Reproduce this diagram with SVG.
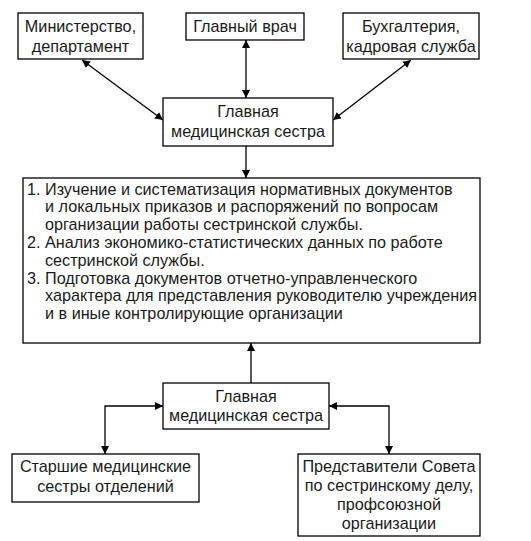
<svg xmlns="http://www.w3.org/2000/svg" width="531" height="541" viewBox="0 0 531 541">
<defs>
<style>
.box{fill:#fff;stroke:#000;stroke-width:1.3}
.t{font-family:"Liberation Sans",Arial,sans-serif;font-size:16.2px;fill:#1a1a1a}
.c{text-anchor:middle}
.ln{fill:none;stroke:#000;stroke-width:1.3}
</style>
<marker id="ah" viewBox="0 0 10 10" refX="10" refY="5" markerWidth="8" markerHeight="8" markerUnits="userSpaceOnUse" orient="auto-start-reverse">
<path d="M0,0 L10,5 L0,10 Z" fill="#000"/>
</marker>
</defs>
<rect width="531" height="541" fill="#fff"/>
<g id="connectors">
<line class="ln" x1="82" y1="60" x2="163" y2="120" marker-start="url(#ah)" marker-end="url(#ah)"/>
<line class="ln" x1="246" y1="40" x2="246" y2="98" marker-start="url(#ah)" marker-end="url(#ah)"/>
<line class="ln" x1="411" y1="60" x2="333" y2="120" marker-start="url(#ah)" marker-end="url(#ah)"/>
<line class="ln" x1="246" y1="146" x2="246" y2="178" marker-end="url(#ah)"/>
<line class="ln" x1="251" y1="383" x2="251" y2="343" marker-end="url(#ah)"/>
<polyline class="ln" points="163,406 105,406 105,454" marker-start="url(#ah)" marker-end="url(#ah)"/>
<polyline class="ln" points="329,406 389,406 389,454" marker-start="url(#ah)" marker-end="url(#ah)"/>
</g>
<g id="ministry">
<rect class="box" x="18" y="13" width="125" height="46"/>
<text class="t c" x="80.5" y="32">Министерство,</text>
<text class="t c" x="80.5" y="52">департамент</text>
</g>
<g id="chief-doctor">
<rect class="box" x="186" y="13" width="118" height="27"/>
<text class="t c" x="245" y="32">Главный врач</text>
</g>
<g id="accounting">
<rect class="box" x="343" y="13" width="136" height="46"/>
<text class="t c" x="411" y="32">Бухгалтерия,</text>
<text class="t c" x="411" y="52">кадровая служба</text>
</g>
<g id="head-nurse-top">
<rect class="box" x="163" y="98" width="170" height="48"/>
<text class="t c" x="248" y="117">Главная</text>
<text class="t c" x="248" y="137">медицинская сестра</text>
</g>
<g id="tasks">
<rect class="box" x="23" y="178" width="457" height="165"/>
<text class="t" x="27" y="194.5">1. Изучение и систематизация нормативных документов</text>
<text class="t" x="45" y="212.3">и локальных приказов и распоряжений по вопросам</text>
<text class="t" x="45" y="230.1">организации работы сестринской службы.</text>
<text class="t" x="27" y="247.9">2. Анализ экономико-статистических данных по работе</text>
<text class="t" x="45" y="265.7">сестринской службы.</text>
<text class="t" x="27" y="283.5">3. Подготовка документов отчетно-управленческого</text>
<text class="t" x="45" y="301.3">характера для представления руководителю учреждения</text>
<text class="t" x="45" y="319.1">и в иные контролирующие организации</text>
</g>
<g id="head-nurse-bottom">
<rect class="box" x="163" y="383" width="166" height="46"/>
<text class="t c" x="246" y="402">Главная</text>
<text class="t c" x="246" y="421">медицинская сестра</text>
</g>
<g id="senior-nurses">
<rect class="box" x="12" y="454" width="187" height="48"/>
<text class="t c" x="105.5" y="472">Старшие медицинские</text>
<text class="t c" x="105.5" y="492">сестры отделений</text>
</g>
<g id="council">
<rect class="box" x="298" y="454" width="182" height="82"/>
<text class="t c" x="389" y="472">Представители Совета</text>
<text class="t c" x="389" y="491">по сестринскому делу,</text>
<text class="t c" x="389" y="510">профсоюзной</text>
<text class="t c" x="389" y="529">организации</text>
</g>
</svg>
